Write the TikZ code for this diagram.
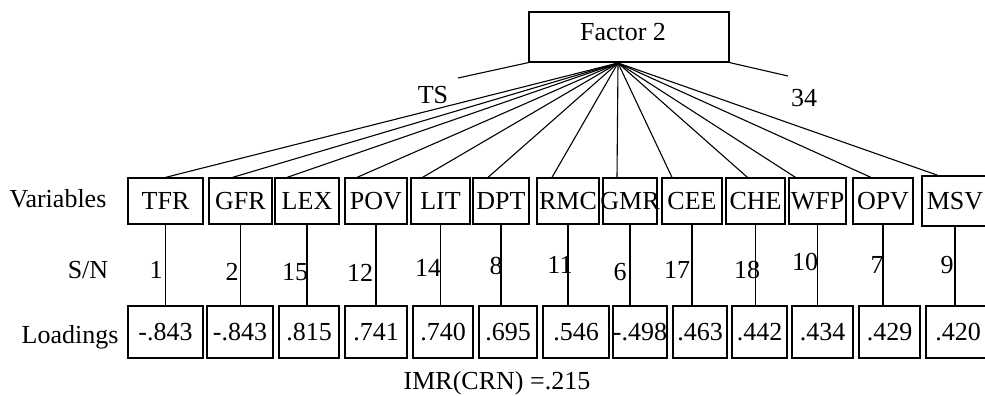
\documentclass[tikz,border=0pt]{standalone}
\usepackage{fontspec}
\setmainfont{Liberation Serif}
\newcommand\bxt[1]{\makebox[0pt]{#1}}
\begin{document}
\begin{tikzpicture}[x=1pt,y=-1pt,
  txt/.style={font=\fontsize{26}{29}\selectfont, inner sep=0pt},
  box/.style={draw, line width=1.2pt, inner sep=0pt, font=\fontsize{26}{29}\selectfont},
  topbox/.style={box, minimum height=46pt},
  lowbox/.style={box, minimum height=52pt},
  conn/.style={line width=1.1pt}]
\useasboundingbox (0,0) rectangle (985,396);
% factor box
\node[box, minimum width=200pt, minimum height=50pt] (f) at (629,37) {};
\node[txt] (ft) at (623,32) {Factor 2};
\coordinate (apex) at (618,63);
\coordinate (tsend) at (458,78);
\coordinate (rend) at (788,76);
\draw[conn] (f.south west) -- (tsend);
\draw[conn] (f.south east) -- (rend);
\node[txt] (ts) at (433,95) {TS};
\node[txt] (n34) at (804,98) {34};
% top boxes
\node[topbox, minimum width=75pt] (v1) at (165.5,201) {\bxt{TFR}};
\node[topbox, minimum width=63pt] (v2) at (240.5,201) {\bxt{GFR}};
\node[topbox, minimum width=64pt] (v3) at (307,201) {\bxt{LEX}};
\node[topbox, minimum width=62pt] (v4) at (376,201) {\bxt{POV}};
\node[topbox, minimum width=59pt] (v5) at (440.5,201) {\bxt{LIT}};
\node[topbox, minimum width=56pt] (v6) at (501,201) {\bxt{DPT}};
\node[topbox, minimum width=62pt] (v7) at (568,201) {\bxt{RMC}};
\node[topbox, minimum width=54pt] (v8) at (630,201) {\bxt{GMR}};
\node[topbox, minimum width=60pt] (v9) at (692,201) {\bxt{CEE}};
\node[topbox, minimum width=59pt] (v10) at (755.5,201) {\bxt{CHE}};
\node[topbox, minimum width=57pt] (v11) at (817.5,201) {\bxt{WFP}};
\node[topbox, minimum width=60pt] (v12) at (883,201) {\bxt{OPV}};
\node[topbox, minimum width=66pt, minimum height=50pt] (v13) at (955,201) {\bxt{MSV}};
% bottom boxes
\node[lowbox, minimum width=75pt] (l1) at (165.5,332) {\bxt{-.843}};
\node[lowbox, minimum width=66pt] (l2) at (240,332) {\bxt{-.843}};
\node[lowbox, minimum width=60pt] (l3) at (309,332) {\bxt{.815}};
\node[lowbox, minimum width=62pt] (l4) at (376,332) {\bxt{.741}};
\node[lowbox, minimum width=60pt] (l5) at (443,332) {\bxt{.740}};
\node[lowbox, minimum width=58pt] (l6) at (508,332) {\bxt{.695}};
\node[lowbox, minimum width=66pt] (l7) at (576,332) {\bxt{.546}};
\node[lowbox, minimum width=54pt] (l8) at (640,332) {\bxt{-.498}};
\node[lowbox, minimum width=54pt] (l9) at (700,332) {\bxt{.463}};
\node[lowbox, minimum width=55pt] (l10) at (759.5,332) {\bxt{.442}};
\node[lowbox, minimum width=61pt] (l11) at (822.5,332) {\bxt{.434}};
\node[lowbox, minimum width=61pt] (l12) at (889.5,332) {\bxt{.429}};
\node[lowbox, minimum width=64pt] (l13) at (958,332) {\bxt{.420}};
% fan lines
\draw[conn] (apex) -- (v1.north);
\draw[conn] (apex) -- ([xshift=-8pt]v2.north);
\draw[conn] (apex) -- ([xshift=-20pt]v3.north);
\draw[conn] (apex) -- ([xshift=-19pt]v4.north);
\draw[conn] (apex) -- ([xshift=-18pt]v5.north);
\draw[conn] (apex) -- ([xshift=-13pt]v6.north);
\draw[conn] (apex) -- ([xshift=-16pt]v7.north);
\draw[conn] (apex) -- ([xshift=-13pt]v8.north);
\draw[conn] (apex) -- ([xshift=-20pt]v9.north);
\draw[conn] (apex) -- ([xshift=-8pt]v10.north);
\draw[conn] (apex) -- ([xshift=-22pt]v11.north);
\draw[conn] (apex) -- ([xshift=-12pt]v12.north);
\draw[conn] (apex) -- ([xshift=-17pt]v13.north);
% vertical lines
\foreach \i in {1,...,13} {\draw[conn] (v\i.south) -- (v\i.south |- l\i.north);}
% S/N numbers
\node[txt] (s1) at (156,270) {1};
\node[txt] (s2) at (232,272) {2};
\node[txt] (s3) at (295,272) {15};
\node[txt] (s4) at (360,273) {12};
\node[txt] (s5) at (428,268) {14};
\node[txt] (s6) at (496,266) {8};
\node[txt] (s7) at (560,265) {11};
\node[txt] (s8) at (620,272) {6};
\node[txt] (s9) at (677,270) {17};
\node[txt] (s10) at (747,270) {18};
\node[txt] (s11) at (805,262) {10};
\node[txt] (s12) at (877,265) {7};
\node[txt] (s13) at (947,265) {9};
% row labels
\node[txt] (rv) at (58,199) {Variables};
\node[txt] (rs) at (88,270) {S/N};
\node[txt] (rl) at (70,337) {Loadings};
\node[txt] (imr) at (497,383) {IMR(CRN) =.215};
\end{tikzpicture}
\end{document}
